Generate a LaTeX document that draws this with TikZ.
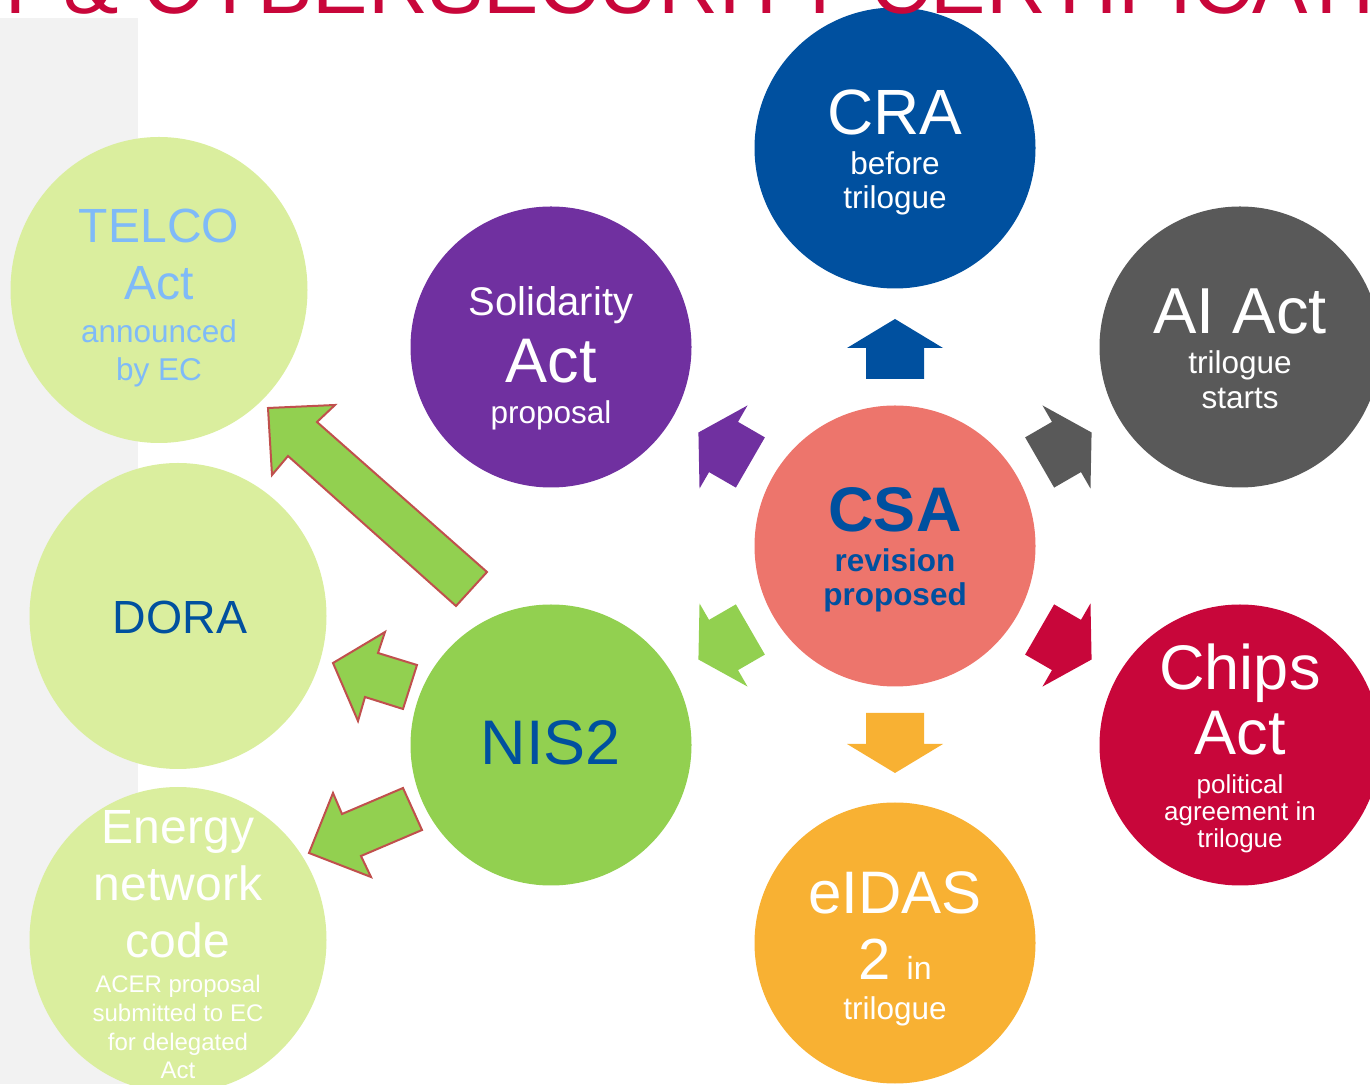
\documentclass[tikz,border=0pt]{standalone}
\usepackage{fontspec}
\setmainfont{Liberation Sans}
\usetikzlibrary{shapes.geometric}
\definecolor{crablue}{HTML}{00509F}
\definecolor{solpurple}{HTML}{7030A0}
\definecolor{aigrey}{HTML}{595959}
\definecolor{csasalmon}{HTML}{ED756C}
\definecolor{chipsred}{HTML}{C8063A}
\definecolor{eidasorange}{HTML}{F8B133}
\definecolor{nisgreen}{HTML}{92D050}
\definecolor{leftgreen}{HTML}{DAEE9E}
\definecolor{telcoblue}{HTML}{7FBAF8}
\definecolor{arrowbrown}{HTML}{C0504D}
\definecolor{stripgrey}{HTML}{F2F2F2}
\newcommand{\fsz}[1]{\fontsize{#1}{0}\selectfont\lineskiplimit=-1000pt\relax}

\begin{document}
\begin{tikzpicture}[x=1pt, y=1pt,
  bigcirc/.style={circle, minimum size=281pt, inner sep=0pt},
  leftcirc/.style={ellipse, minimum width=297pt, minimum height=306pt, inner sep=0pt, fill=leftgreen},
  lbl/.style={align=center, inner sep=0pt, font=\fsz{31.5}},
  nisarrow/.style={fill=nisgreen, draw=arrowbrown, line width=2pt},
  hexarrow/.pic={\fill (167,-29) -- (198,-29) -- (198,-48) -- (227,0) -- (198,48) -- (198,29) -- (167,29) -- cycle;}]
\path[use as bounding box, clip] (0,0) rectangle (1370,1084);
\fill[stripgrey] (0,0) rectangle (138,1066);

% circles
\node[leftcirc] (telco) at (159,794) {};
\node[leftcirc] (dora) at (178,468) {};
\node[leftcirc] (energy) at (178,144) {};
\node[bigcirc, fill=crablue] (cra) at (895,936) {};
\node[bigcirc, fill=solpurple] (sol) at (551,737) {};
\node[bigcirc, fill=aigrey] (ai) at (1240,737) {};
\node[bigcirc, fill=csasalmon] (csa) at (895,538) {};
\node[bigcirc, fill=chipsred] (chips) at (1240,339) {};
\node[bigcirc, fill=eidasorange] (eidas) at (895,141) {};
\node[bigcirc, fill=nisgreen] (nis) at (551,339) {};

% arrows around CSA
\pic[color=crablue, rotate=90] at (csa) {hexarrow};
\pic[color=solpurple, rotate=150] at (csa) {hexarrow};
\pic[color=aigrey, rotate=30] at (csa) {hexarrow};
\pic[color=chipsred, rotate=-30] at (csa) {hexarrow};
\pic[color=eidasorange, rotate=-90] at (csa) {hexarrow};
\pic[color=nisgreen, rotate=210] at (csa) {hexarrow};

% arrows from NIS2
\draw[nisarrow] (487,512) -- (317,662) -- (335,679) -- (268,676) -- (272,609) -- (288,628) -- (456,478) -- cycle;
\draw[nisarrow] (417,419) -- (378,431) -- (385,452) -- (333,421) -- (358,363) -- (365,387) -- (403,375) -- cycle;
\draw[nisarrow] (403,296) -- (342,270) -- (333,291) -- (309,231) -- (371,207) -- (361,228) -- (422,254) -- cycle;

% labels
\node[lbl, text=white] (cratext) at ([yshift=-4]cra) {{\fsz{64}CRA}\\[40pt]before\\[34pt]trilogue};
\node[lbl, text=white] (soltext) at ([yshift=-11]sol) {{\fsz{40}Solidarity}\\[67pt]{\fsz{63}Act}\\[41pt]proposal};
\node[lbl, text=white] (aitext) at ([yshift=-2]ai) {{\fsz{65}AI Act}\\[40pt]trilogue\\[35pt]starts};
\node[lbl, text=crablue, font=\fsz{31.5}\bfseries] (csatext) at ([yshift=-4]csa) {{\fsz{63}CSA}\\[40pt]revision\\[34pt]proposed};
\node[lbl, text=white, font=\fsz{26}] (chipstext) at ([yshift=-3]chips) {{\fsz{63}Chips}\\[65pt]{\fsz{63}Act}\\[39pt]political\\[27pt]agreement in\\[27pt]trilogue};
\node[lbl, text=white] (eidastext) at ([yshift=-6]eidas) {{\fsz{60}eIDAS}\\[66pt]{\fsz{58}2 }{\fsz{32}in}\\[40pt]trilogue};
\node[lbl, text=crablue, font=\fsz{63}] (nistext) at ([yshift=2]nis) {NIS2};
\node[lbl, text=telcoblue] (telcotext) at ([yshift=-8]telco) {{\fsz{48}TELCO}\\[57pt]{\fsz{48}Act}\\[43pt]announced\\[38pt]by EC};
\node[lbl, text=crablue, font=\fsz{46.5}] (doratext) at ([xshift=2, yshift=-1]dora) {DORA};
\node[lbl, text=white, font=\fsz{24}] (energytext) at ([yshift=-5]energy) {{\fsz{48}Energy}\\[57pt]{\fsz{48}network}\\[57pt]{\fsz{48}code}\\[35pt]ACER proposal\\[29pt]submitted to EC\\[29pt]for delegated\\[28pt]Act};

% title
\node[anchor=base west, inner sep=0pt, text=chipsred, font=\fsz{83}] (title) at (-10,1070) {T \& CYBERSECURITY CERTIFICATI};
\end{tikzpicture}
\end{document}
